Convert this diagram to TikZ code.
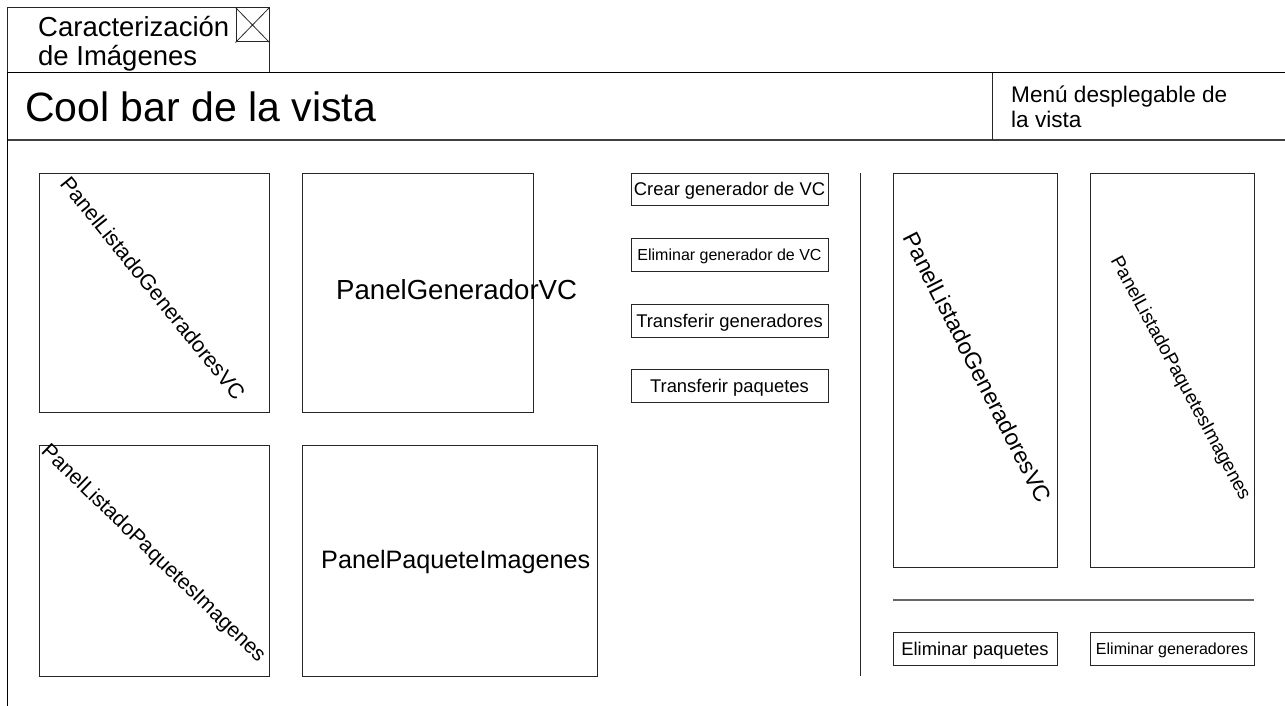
\documentclass[tikz,border=0pt]{standalone}
\usepackage{fontspec}
\setmainfont{Liberation Sans}
\newcommand{\fsz}[1]{\fontsize{#1}{#1}\selectfont}
\begin{document}
\begin{tikzpicture}[x=1pt,y=-1pt,
  frame/.style={draw=black!85, line width=1pt},
  panel/.style={frame, rectangle, inner sep=0pt},
  button/.style={frame, rectangle, inner sep=0pt, text depth=0pt, font=\fsz{18.4}},
  label/.style={inner sep=0pt, anchor=base west}]
\useasboundingbox (0,0) rectangle (1285,706);

% window tab with close box
\node[panel, minimum width=262, minimum height=65] (tab) at (138,40.5) {};
\node[panel, minimum width=33, minimum height=34] (close) at (252.5,25) {};
\draw[black!85, line width=0.8pt] (close.north west) -- (close.south east)
  (close.north east) -- (close.south west);
\node[label, font=\fsz{27.5}] (tabA) at (38,37) {Caracterización};
\node[label, font=\fsz{27.5}] (tabB) at (38,66) {de Imágenes};

% cool bar
\coordinate (barTL) at (7,73);
\coordinate (barTR) at (1285,73);
\coordinate (barBL) at (7,140);
\coordinate (barBR) at (1285,140);
\coordinate (leftEnd) at (7,706);
\coordinate (menuTop) at (992,73);
\coordinate (menuBot) at (992,140);
\draw[black, line width=1pt] (barTL) -- (barTR);
\draw[black!75, line width=1.8pt] (barBL) -- (barBR);
\draw[black, line width=1pt] (barTL) -- (leftEnd);
\draw[black!85, line width=1pt] (menuTop) -- (menuBot);
\node[label, font=\fsz{41}] (cool) at (25,122) {Cool bar de la vista};
\node[label, font=\fsz{22.6}] (menuA) at (1011,103) {Menú desplegable de};
\node[label, font=\fsz{22.6}] (menuB) at (1011,128) {la vista};

% left panels
\node[panel, minimum width=230, minimum height=239] (p1) at (154,292.5) {};
\node[panel, minimum width=230, minimum height=231] (p2) at (154,560.5) {};
\node[panel, minimum width=231, minimum height=239] (p3) at (417.5,292.5) {};
\node[panel, minimum width=295, minimum height=231] (p4) at (449.5,560.5) {};
\node[inner sep=0pt, rotate=-51, font=\fsz{21.5}] (t1) at (153,288) {PanelListadoGeneradoresVC};
\node[inner sep=0pt, rotate=-44, font=\fsz{21}] (t2) at (153,554) {PanelListadoPaquetesImagenes};
\node[label, font=\fsz{27.6}] (t3) at (336,299) {PanelGeneradorVC};
\node[label, font=\fsz{25.2}] (t4) at (321,568) {PanelPaqueteImagenes};

% action buttons
\node[button, minimum width=197, minimum height=32] (b1) at (729.5,189) {Crear generador de VC};
\node[button, minimum width=197, minimum height=33, font=\fsz{16}] (b2) at (729.5,254.5) {Eliminar generador de VC};
\node[button, minimum width=197, minimum height=33] (b3) at (729.5,320.5) {Transferir generadores};
\node[button, minimum width=197, minimum height=33] (b4) at (729.5,385.5) {Transferir paquetes};

% separator
\coordinate (sepTop) at (860,173);
\coordinate (sepBot) at (860,676);
\draw[black!85, line width=1pt] (sepTop) -- (sepBot);

% right panels
\node[panel, minimum width=164, minimum height=394] (p5) at (975,370) {};
\node[panel, minimum width=164, minimum height=394] (p6) at (1172,370) {};
\node[inner sep=0pt, rotate=-63, font=\fsz{23}] (t5) at (977.5,367.5) {PanelListadoGeneradoresVC};
\node[inner sep=0pt, rotate=-61.5, font=\fsz{19}] (t6) at (1180,378.5) {PanelListadoPaquetesImagenes};
\coordinate (hl) at (893,600);
\coordinate (hr) at (1254,600);
\draw[black!60, line width=1.2pt] (hl) -- (hr);
\node[button, minimum width=164, minimum height=33] (b5) at (975,648.5) {Eliminar paquetes};
\node[button, minimum width=164, minimum height=33, font=\fsz{16}] (b6) at (1172,648.5) {Eliminar generadores};
\end{tikzpicture}
\end{document}
